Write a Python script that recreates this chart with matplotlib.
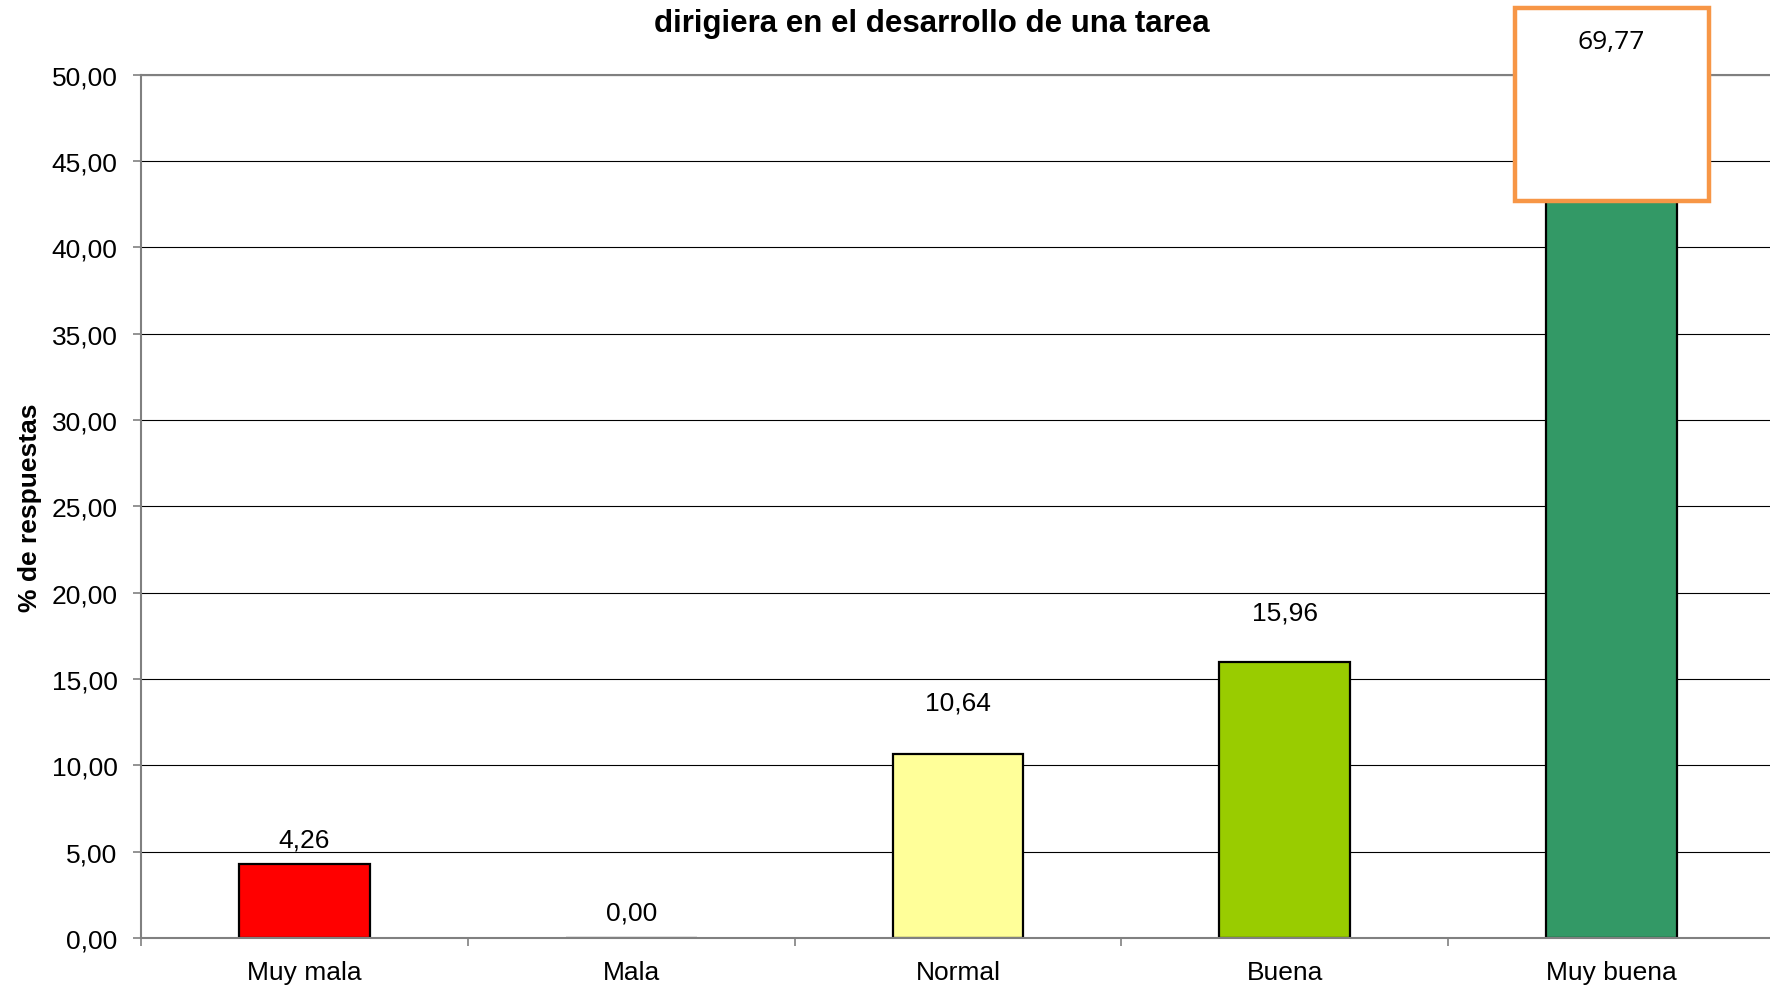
import matplotlib.pyplot as plt
from matplotlib.patches import Rectangle
from matplotlib.ticker import FixedLocator, FuncFormatter

categories = ["Muy mala", "Mala", "Normal", "Buena", "Muy buena"]
values = [4.26, 0.00, 10.64, 15.96, 69.77]
colors = ["#FF0000", "#FFFF99", "#FFFF99", "#99CC00", "#339966"]
label_offsets = [18, 18, 37, 36, 0]  # points above the bar top

plt.rcParams["font.family"] = ["Liberation Sans", "DejaVu Sans"]

fig = plt.figure(figsize=(17.7, 9.87), dpi=100)
ax = fig.add_axes([141 / 1770, 48 / 987, 1634 / 1770, 863.3 / 987])

x = list(range(len(categories)))
bars = ax.bar(x, values, width=0.4, color=colors, edgecolor="black", linewidth=1.6, zorder=2)

ax.set_ylim(0, 50)
ax.set_xlim(-0.5, len(categories) - 0.5)
ax.set_yticks([i * 5 for i in range(11)])
ax.yaxis.set_major_formatter(FuncFormatter(lambda v, p: f"{v:.2f}".replace(".", ",")))
ax.grid(axis="y", color="black", linewidth=0.8, zorder=0)
ax.set_axisbelow(True)

ax.set_xticks(x)
ax.set_xticklabels(categories)
ax.xaxis.set_minor_locator(FixedLocator([i - 0.5 for i in range(len(categories) + 1)]))
ax.tick_params(axis="x", which="major", length=0, pad=16, labelsize=19)
ax.tick_params(axis="x", which="minor", length=6, color="#808080", width=1.2)
ax.tick_params(axis="y", length=6, pad=11, labelsize=19, color="#808080", width=1.2)

for side in ["left", "bottom", "top"]:
    ax.spines[side].set_color("#808080")
    ax.spines[side].set_linewidth(1.5)
ax.spines["right"].set_visible(False)

ax.set_ylabel("% de respuestas", fontsize=19, fontweight="bold", labelpad=7)

for xi, v, off in zip(x[:-1], values[:-1], label_offsets[:-1]):
    ax.annotate(f"{v:.2f}".replace(".", ","), (xi, v), xytext=(0, off),
                textcoords="offset points", ha="center", va="center", fontsize=19)

# label box for the bar that goes off the scale
xl = x[-1]
box = Rectangle((xl - 0.297, 42.7), 0.594, 11.15, facecolor="white",
                edgecolor="#F79646", linewidth=3.2, clip_on=False, zorder=5)
ax.add_patch(box)
ax.text(xl, 51.95, f"{values[-1]:.2f}".replace(".", ","), ha="center", va="center",
        fontsize=19, family=["Open Sans", "DejaVu Sans"], zorder=6, clip_on=False)

fig.text(932 / 1770, 1 - 24 / 987, "dirigiera en el desarrollo de una tarea",
         ha="center", va="center", fontsize=22.5, fontweight="bold")

fig.savefig("out.png", dpi=100)
